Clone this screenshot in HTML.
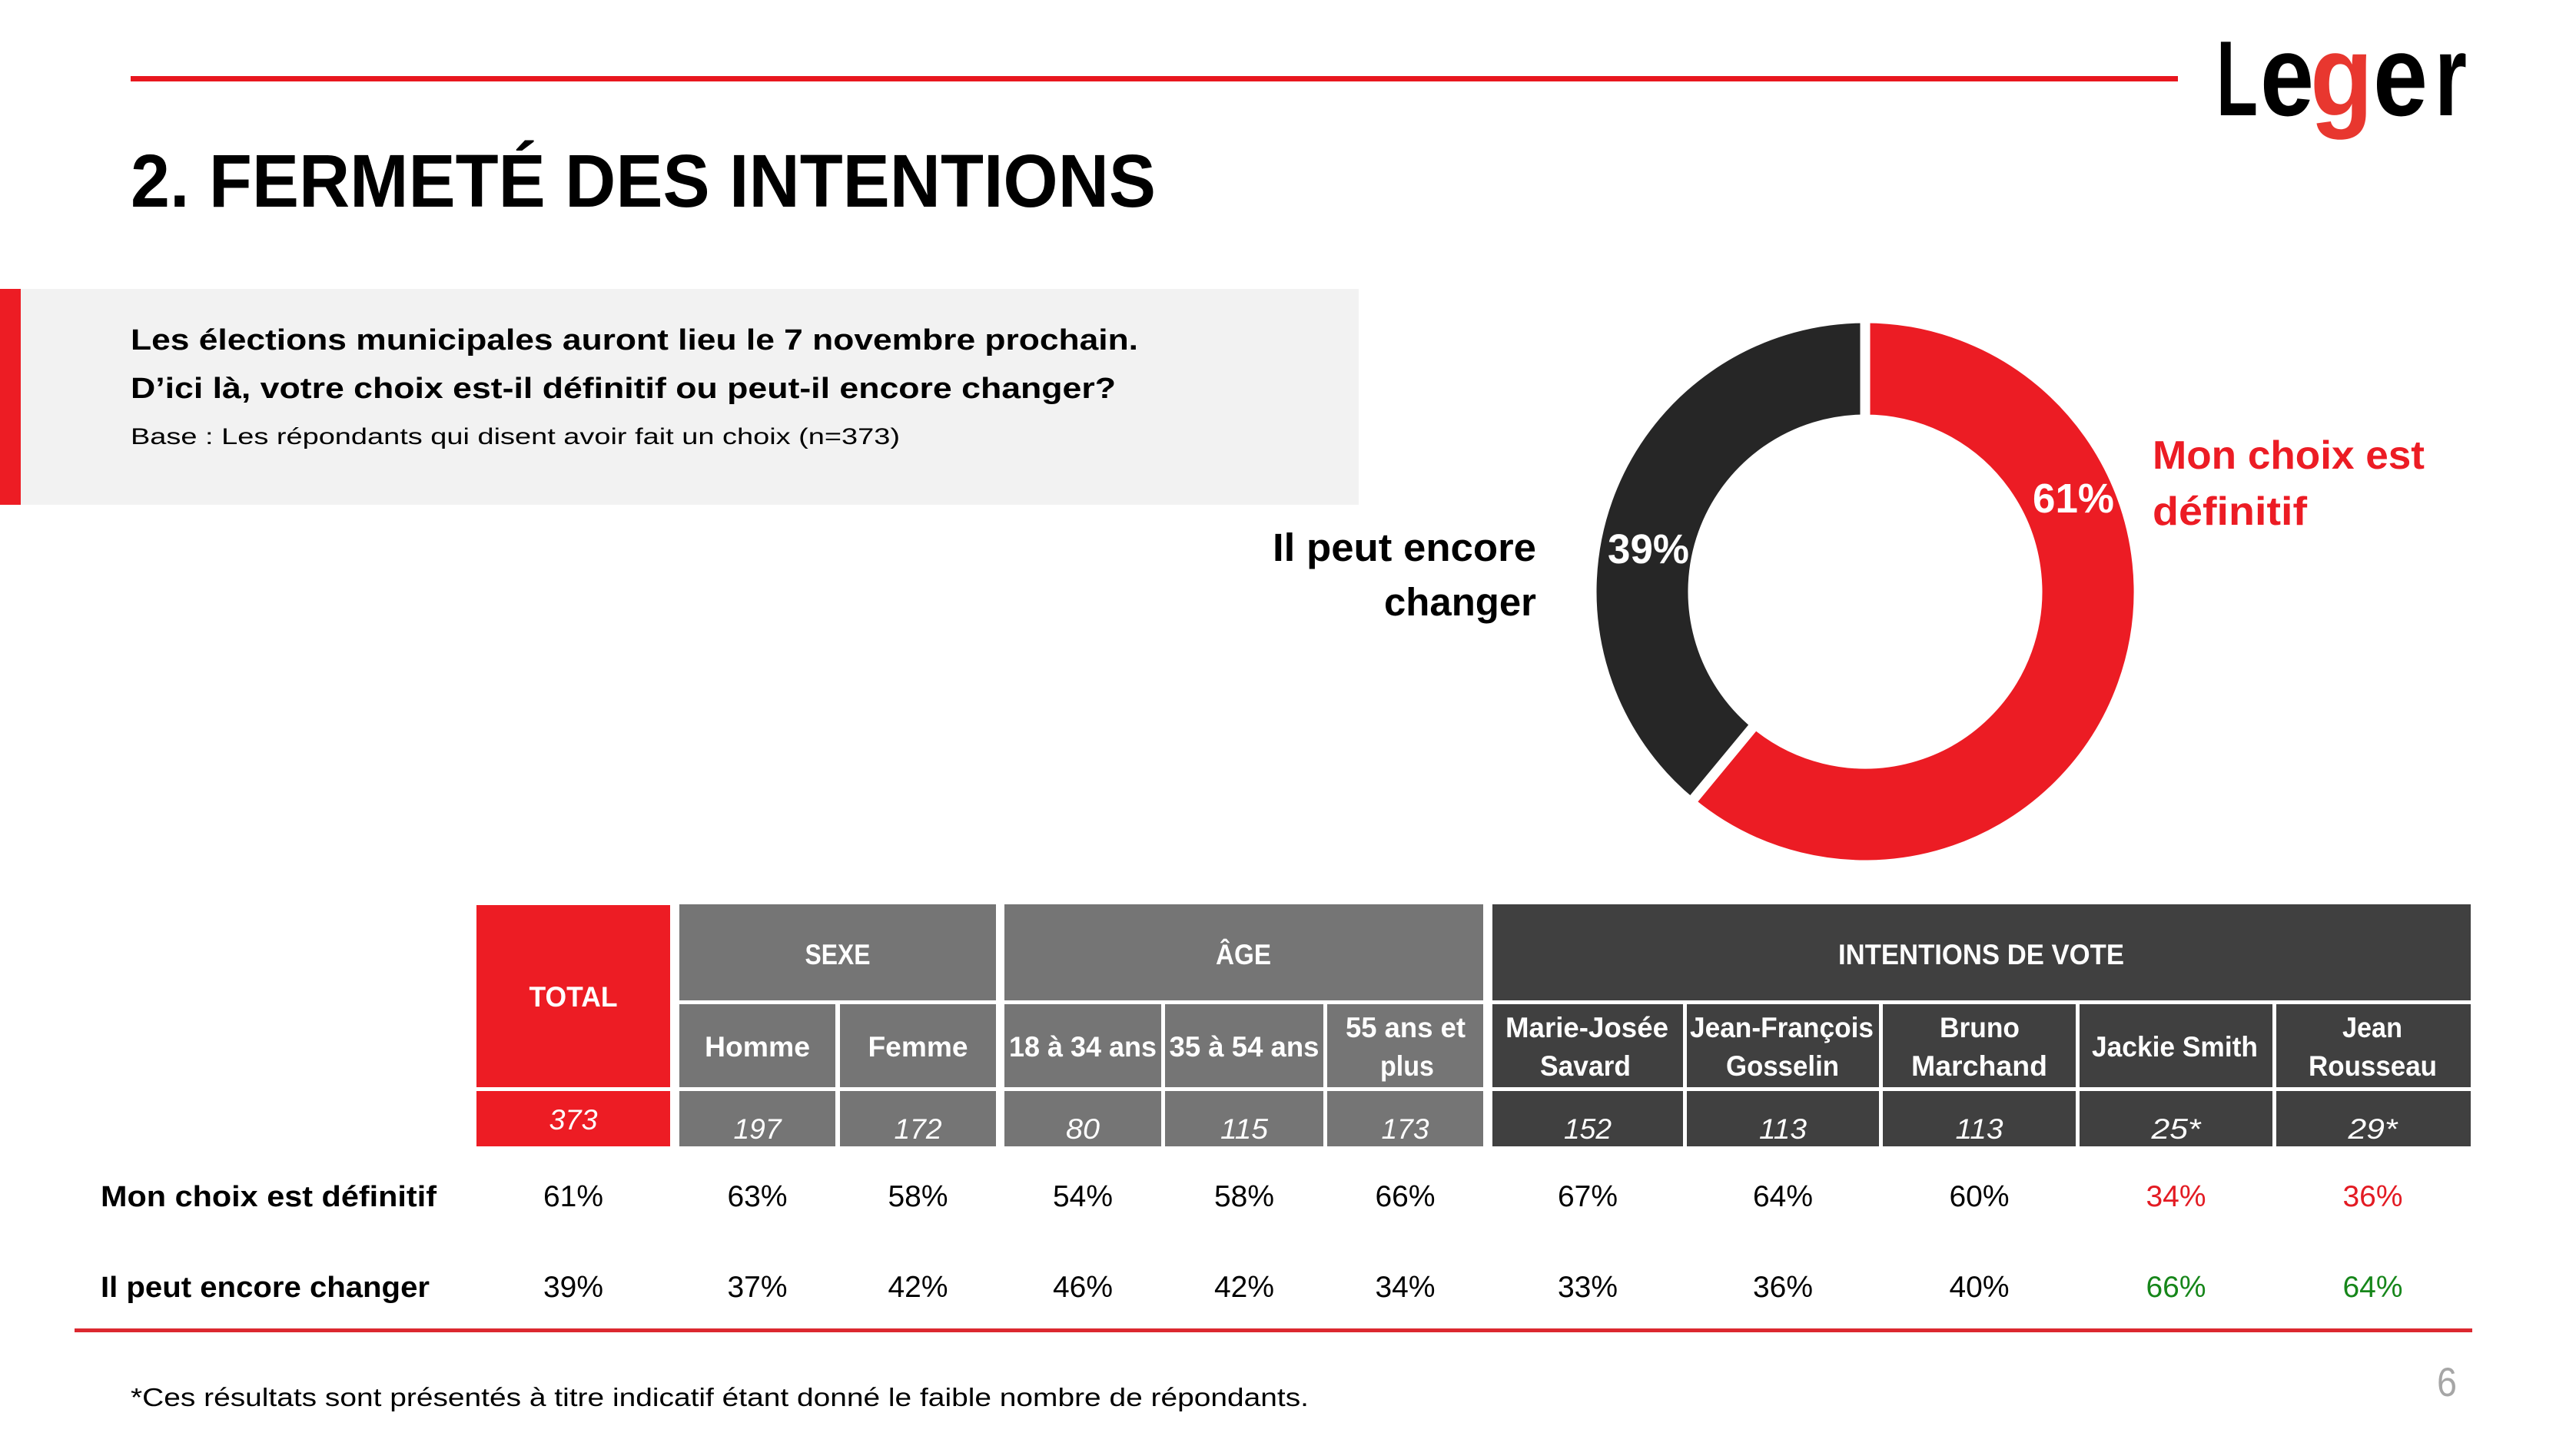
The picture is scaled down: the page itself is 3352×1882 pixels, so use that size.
<!DOCTYPE html>
<html><head><meta charset="utf-8"><style>
html,body{margin:0;padding:0;background:#fff;}
svg{display:block;}
text{font-family:"Liberation Sans",Arial,sans-serif;}
</style></head><body>
<svg width="3352" height="1882" viewBox="0 0 3352 1882" xmlns="http://www.w3.org/2000/svg">
<rect width="3352" height="1882" fill="#fff"/>
<!-- top line -->
<rect x="170" y="99" width="2664" height="7" fill="#e8161e"/>
<!-- logo -->
<text x="2884" y="150" font-size="139" font-weight="bold" fill="#000" textLength="54" lengthAdjust="spacingAndGlyphs">L</text>
<text x="2941" y="150" font-size="150" font-weight="bold" fill="#000" textLength="70" lengthAdjust="spacingAndGlyphs">e</text>
<text x="3006" y="150" font-size="150" font-weight="bold" fill="#e8372f" textLength="82" lengthAdjust="spacingAndGlyphs">g</text>
<text x="3088" y="150" font-size="150" font-weight="bold" fill="#000" textLength="71" lengthAdjust="spacingAndGlyphs">e</text>
<text x="3168" y="150" font-size="150" font-weight="bold" fill="#000" textLength="42" lengthAdjust="spacingAndGlyphs">r</text>
<!-- title -->
<text x="170" y="269" font-size="97" font-weight="bold" fill="#000" textLength="1334" lengthAdjust="spacingAndGlyphs">2. FERMETÉ DES INTENTIONS</text>
<!-- question box -->
<rect x="0" y="376" width="1768" height="281" fill="#f2f2f2"/>
<rect x="0" y="376" width="27" height="281" fill="#ed1c24"/>
<text x="170" y="455" font-size="38" font-weight="bold" fill="#000" textLength="1311" lengthAdjust="spacingAndGlyphs">Les élections municipales auront lieu le 7 novembre prochain.</text>
<text x="170" y="518" font-size="38" font-weight="bold" fill="#000" textLength="1282" lengthAdjust="spacingAndGlyphs">D’ici là, votre choix est-il définitif ou peut-il encore changer?</text>
<text x="170" y="578" font-size="30" fill="#000" textLength="1001" lengthAdjust="spacingAndGlyphs">Base : Les répondants qui disent avoir fait un choix (n=373)</text>
<!-- donut -->
<path d="M 2427 414 A 356 356 0 1 1 2200.1 1044.3 L 2284.2 942.6 A 224 224 0 1 0 2427 546 Z" fill="#ec1c24" stroke="#fff" stroke-width="13" stroke-linejoin="miter"/>
<path d="M 2200.1 1044.3 A 356 356 0 0 1 2427 414 L 2427 546 A 224 224 0 0 0 2284.2 942.6 Z" fill="#262626" stroke="#fff" stroke-width="13" stroke-linejoin="miter"/>
<text x="2645" y="667" font-size="54" font-weight="bold" fill="#fff" textLength="106" lengthAdjust="spacingAndGlyphs">61%</text>
<text x="2092" y="733" font-size="54" font-weight="bold" fill="#fff" textLength="106" lengthAdjust="spacingAndGlyphs">39%</text>
<text x="2801" y="610" font-size="52" font-weight="bold" fill="#ec1c24" textLength="354" lengthAdjust="spacingAndGlyphs">Mon choix est</text>
<text x="2801" y="683" font-size="52" font-weight="bold" fill="#ec1c24" textLength="201" lengthAdjust="spacingAndGlyphs">définitif</text>
<text x="1656" y="730" font-size="51" font-weight="bold" fill="#000" textLength="343" lengthAdjust="spacingAndGlyphs">Il peut encore</text>
<text x="1801" y="801" font-size="51" font-weight="bold" fill="#000" textLength="198" lengthAdjust="spacingAndGlyphs">changer</text>

<!-- table headers -->
<rect x="620" y="1178" width="252" height="237" fill="#ed1c24"/>
<rect x="620" y="1420" width="252" height="72" fill="#ed1c24"/>
<rect x="884" y="1177" width="412" height="125" fill="#757575"/>
<rect x="1307" y="1177" width="623" height="125" fill="#757575"/>
<rect x="1942" y="1177" width="1273" height="125" fill="#404040"/>
<!-- row 2 -->
<rect x="884" y="1307" width="203" height="108" fill="#757575"/>
<rect x="1093" y="1307" width="203" height="108" fill="#757575"/>
<rect x="1307" y="1307" width="204" height="108" fill="#757575"/>
<rect x="1516" y="1307" width="206" height="108" fill="#757575"/>
<rect x="1727" y="1307" width="203" height="108" fill="#757575"/>
<rect x="1942" y="1307" width="248" height="108" fill="#404040"/>
<rect x="2195" y="1307" width="250" height="108" fill="#404040"/>
<rect x="2450" y="1307" width="251" height="108" fill="#404040"/>
<rect x="2706" y="1307" width="251" height="108" fill="#404040"/>
<rect x="2962" y="1307" width="253" height="108" fill="#404040"/>
<!-- row 3 -->
<rect x="884" y="1420" width="203" height="72" fill="#757575"/>
<rect x="1093" y="1420" width="203" height="72" fill="#757575"/>
<rect x="1307" y="1420" width="204" height="72" fill="#757575"/>
<rect x="1516" y="1420" width="206" height="72" fill="#757575"/>
<rect x="1727" y="1420" width="203" height="72" fill="#757575"/>
<rect x="1942" y="1420" width="248" height="72" fill="#404040"/>
<rect x="2195" y="1420" width="250" height="72" fill="#404040"/>
<rect x="2450" y="1420" width="251" height="72" fill="#404040"/>
<rect x="2706" y="1420" width="251" height="72" fill="#404040"/>
<rect x="2962" y="1420" width="253" height="72" fill="#404040"/>

<g font-size="37" font-weight="bold" fill="#fff" text-anchor="middle" lengthAdjust="spacingAndGlyphs">
<text x="746" y="1310" textLength="115" lengthAdjust="spacingAndGlyphs">TOTAL</text>
<text x="1090" y="1255" textLength="85" lengthAdjust="spacingAndGlyphs">SEXE</text>
<text x="1618" y="1255" textLength="72" lengthAdjust="spacingAndGlyphs">ÂGE</text>
<text x="2578" y="1255" textLength="372" lengthAdjust="spacingAndGlyphs">INTENTIONS DE VOTE</text>
<text x="985.5" y="1375" textLength="137" lengthAdjust="spacingAndGlyphs">Homme</text>
<text x="1194.5" y="1375" textLength="130" lengthAdjust="spacingAndGlyphs">Femme</text>
<text x="1409" y="1375" textLength="192" lengthAdjust="spacingAndGlyphs">18 à 34 ans</text>
<text x="1619" y="1375" textLength="195" lengthAdjust="spacingAndGlyphs">35 à 54 ans</text>
<text x="1829" y="1350" textLength="156" lengthAdjust="spacingAndGlyphs">55 ans et</text>
<text x="1831" y="1400" textLength="70" lengthAdjust="spacingAndGlyphs">plus</text>
<text x="2065" y="1350" textLength="212" lengthAdjust="spacingAndGlyphs">Marie-Josée</text>
<text x="2063" y="1400" textLength="118" lengthAdjust="spacingAndGlyphs">Savard</text>
<text x="2318.5" y="1350" textLength="239" lengthAdjust="spacingAndGlyphs">Jean-François</text>
<text x="2319.5" y="1400" textLength="147" lengthAdjust="spacingAndGlyphs">Gosselin</text>
<text x="2576" y="1350" textLength="104" lengthAdjust="spacingAndGlyphs">Bruno</text>
<text x="2575.5" y="1400" textLength="177" lengthAdjust="spacingAndGlyphs">Marchand</text>
<text x="2830" y="1375" textLength="216" lengthAdjust="spacingAndGlyphs">Jackie Smith</text>
<text x="3087" y="1350" textLength="78" lengthAdjust="spacingAndGlyphs">Jean</text>
<text x="3087.5" y="1400" textLength="167" lengthAdjust="spacingAndGlyphs">Rousseau</text>
</g>
<g font-size="37" font-style="italic" fill="#fff" text-anchor="middle">
<text x="746" y="1470" textLength="63" lengthAdjust="spacingAndGlyphs">373</text>
<text x="985.5" y="1482" textLength="62" lengthAdjust="spacingAndGlyphs">197</text>
<text x="1194.5" y="1482" textLength="62" lengthAdjust="spacingAndGlyphs">172</text>
<text x="1409" y="1482" textLength="44" lengthAdjust="spacingAndGlyphs">80</text>
<text x="1619" y="1482" textLength="62" lengthAdjust="spacingAndGlyphs">115</text>
<text x="1828.5" y="1482" textLength="62" lengthAdjust="spacingAndGlyphs">173</text>
<text x="2066" y="1482" textLength="62" lengthAdjust="spacingAndGlyphs">152</text>
<text x="2320" y="1482" textLength="62" lengthAdjust="spacingAndGlyphs">113</text>
<text x="2575.5" y="1482" textLength="62" lengthAdjust="spacingAndGlyphs">113</text>
<text x="2831.5" y="1482" textLength="64" lengthAdjust="spacingAndGlyphs">25*</text>
<text x="3087.5" y="1482" textLength="64" lengthAdjust="spacingAndGlyphs">29*</text>
</g>

<!-- data rows -->
<text x="131" y="1570" font-size="38" font-weight="bold" fill="#000" textLength="437" lengthAdjust="spacingAndGlyphs">Mon choix est définitif</text>
<text x="131" y="1688" font-size="38" font-weight="bold" fill="#000" textLength="428" lengthAdjust="spacingAndGlyphs">Il peut encore changer</text>
<g font-size="39" fill="#000" text-anchor="middle">
<text x="746" y="1570" textLength="78" lengthAdjust="spacingAndGlyphs">61%</text>
<text x="985.5" y="1570" textLength="78" lengthAdjust="spacingAndGlyphs">63%</text>
<text x="1194.5" y="1570" textLength="78" lengthAdjust="spacingAndGlyphs">58%</text>
<text x="1409" y="1570" textLength="78" lengthAdjust="spacingAndGlyphs">54%</text>
<text x="1619" y="1570" textLength="78" lengthAdjust="spacingAndGlyphs">58%</text>
<text x="1828.5" y="1570" textLength="78" lengthAdjust="spacingAndGlyphs">66%</text>
<text x="2066" y="1570" textLength="78" lengthAdjust="spacingAndGlyphs">67%</text>
<text x="2320" y="1570" textLength="78" lengthAdjust="spacingAndGlyphs">64%</text>
<text x="2575.5" y="1570" textLength="78" lengthAdjust="spacingAndGlyphs">60%</text>
<text x="2831.5" y="1570" textLength="78" lengthAdjust="spacingAndGlyphs" fill="#e31b23">34%</text>
<text x="3087.5" y="1570" textLength="78" lengthAdjust="spacingAndGlyphs" fill="#e31b23">36%</text>
<text x="746" y="1688" textLength="78" lengthAdjust="spacingAndGlyphs">39%</text>
<text x="985.5" y="1688" textLength="78" lengthAdjust="spacingAndGlyphs">37%</text>
<text x="1194.5" y="1688" textLength="78" lengthAdjust="spacingAndGlyphs">42%</text>
<text x="1409" y="1688" textLength="78" lengthAdjust="spacingAndGlyphs">46%</text>
<text x="1619" y="1688" textLength="78" lengthAdjust="spacingAndGlyphs">42%</text>
<text x="1828.5" y="1688" textLength="78" lengthAdjust="spacingAndGlyphs">34%</text>
<text x="2066" y="1688" textLength="78" lengthAdjust="spacingAndGlyphs">33%</text>
<text x="2320" y="1688" textLength="78" lengthAdjust="spacingAndGlyphs">36%</text>
<text x="2575.5" y="1688" textLength="78" lengthAdjust="spacingAndGlyphs">40%</text>
<text x="2831.5" y="1688" textLength="78" lengthAdjust="spacingAndGlyphs" fill="#16861a">66%</text>
<text x="3087.5" y="1688" textLength="78" lengthAdjust="spacingAndGlyphs" fill="#16861a">64%</text>
</g>
<rect x="97" y="1729" width="3120" height="5" fill="#dc2830"/>
<text x="170" y="1830" font-size="33" fill="#000" textLength="1533" lengthAdjust="spacingAndGlyphs">*Ces résultats sont présentés à titre indicatif étant donné le faible nombre de répondants.</text>
<text x="3171" y="1817" font-size="53" fill="#a6a6a6" textLength="26" lengthAdjust="spacingAndGlyphs">6</text>
</svg>
</body></html>
